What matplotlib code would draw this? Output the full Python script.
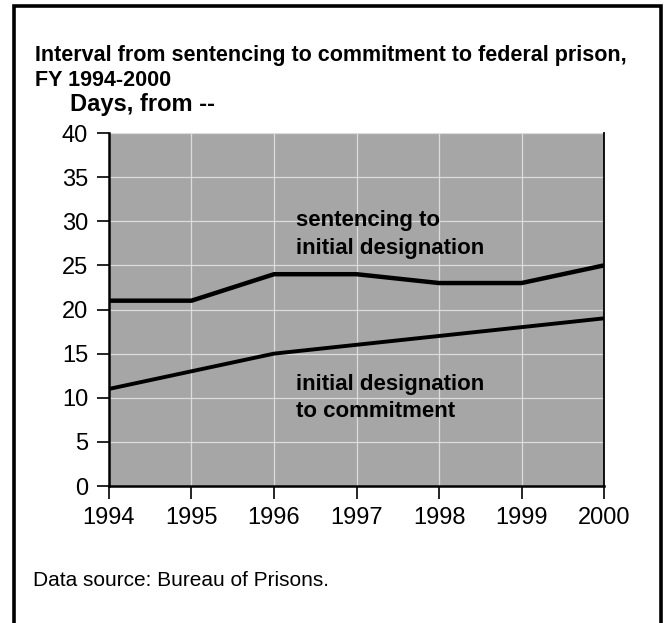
import matplotlib
matplotlib.use("Agg")
import matplotlib.pyplot as plt
from matplotlib.patches import Rectangle

plt.rcParams['font.family'] = ['Liberation Sans', 'DejaVu Sans']

# fiscal years and days for each stage
years = [1994, 1995, 1996, 1997, 1998, 1999, 2000]
sentencing_to_designation = [21, 21, 24, 24, 23, 23, 25]
designation_to_commitment = [11, 13, 15, 16, 17, 18, 19]
y_ticks = [0, 5, 10, 15, 20, 25, 30, 35, 40]

fig = plt.figure(figsize=(6.65, 6.23), dpi=100)
ax = fig.add_axes([0.1639, 0.2199, 0.7444, 0.5666])
ax.set_facecolor('#a6a6a6')

ax.plot(years, sentencing_to_designation, color='black', lw=3.2, solid_joinstyle='round')
ax.plot(years, designation_to_commitment, color='black', lw=2.8, solid_joinstyle='round')

ax.set_xlim(1994, 2000)
ax.set_ylim(0, 40)
ax.set_xticks(years)
ax.set_yticks(y_ticks)
ax.grid(True, color='#dcdcdc', lw=0.9)
ax.set_axisbelow(True)

ax.spines['top'].set_visible(False)
ax.spines['left'].set_linewidth(1.8)
ax.spines['bottom'].set_linewidth(1.8)
ax.spines['right'].set_linewidth(1.3)
ax.tick_params(direction='out', length=9, width=1.2, labelsize=17, pad=6)

ax.text(1996.27, 28.5, 'sentencing to\ninitial designation', fontsize=16,
        fontweight='bold', va='center', ha='left', linespacing=1.4)
ax.text(1996.27, 10.0, 'initial designation\nto commitment', fontsize=16,
        fontweight='bold', va='center', ha='left', linespacing=1.4)

fig.text(35 / 665, 1 - 68 / 623,
         'Interval from sentencing to commitment to federal prison,\nFY 1994-2000',
         fontsize=15.5, fontweight='bold', ha='left', va='center', linespacing=1.3)
fig.text(70 / 665, 1 - 105 / 623, 'Days, from --', fontsize=17,
         fontweight='bold', ha='left', va='center')
fig.text(33 / 665, 1 - 580 / 623, 'Data source: Bureau of Prisons.', fontsize=15,
         ha='left', va='center')

fig.patches.append(Rectangle((13.5 / 665, -0.02), (660.5 - 13.5) / 665, 1.02 - 5.5 / 623,
                             transform=fig.transFigure, fill=False, lw=2.6,
                             edgecolor='black', zorder=10))

plt.savefig('out.png', dpi=100)
